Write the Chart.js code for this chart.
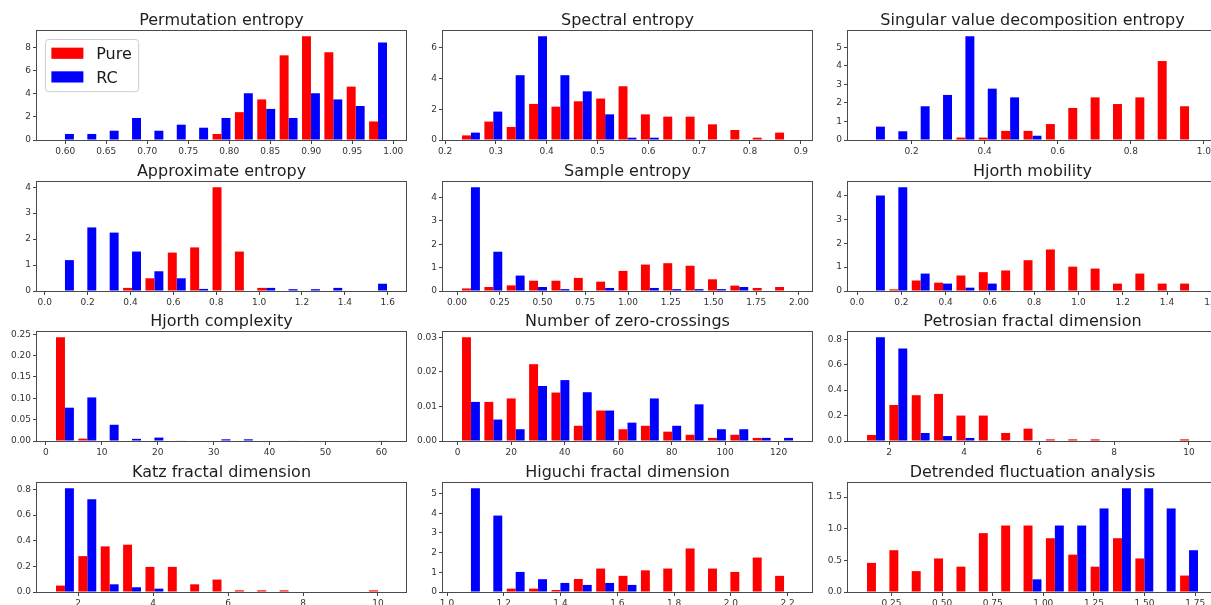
<!DOCTYPE html>
<html>
<head>
<meta charset="utf-8">
<script src="https://cdn.jsdelivr.net/npm/chart.js@4.4.1/dist/chart.umd.min.js"></script>
<style>
  html, body { margin: 0; padding: 0; background: #fff; }
  body { position: relative; width: 1211px; height: 605px; overflow: hidden; }
  canvas { position: absolute; }
</style>
</head>
<body>
<script>
// ═══════════════════════════════
// HISTOGRAMAS DE CARACTERÍSTICAS — PURE vs RC
// ═══════════════════════════════
// 12 paneles (4 filas × 3 columnas). Cada panel es una densidad en 15 bins; las barras
// rojas (Pure) y azules (RC) van lado a lado dentro de cada bin, como hist() de matplotlib.

const TITULOS = [
  'Permutation entropy', 'Spectral entropy', 'Singular value decomposition entropy',
  'Approximate entropy', 'Sample entropy', 'Hjorth mobility',
  'Hjorth complexity', 'Number of zero-crossings', 'Petrosian fractal dimension',
  'Katz fractal dimension', 'Higuchi fractal dimension', 'Detrended fluctuation analysis',
];

// [primer borde, último borde] de los bins de cada panel
const RANGO_BINS = [
  [0.586, 0.995], [0.229, 0.889], [0.072, 0.990],
  [0.042, 1.607], [0.016, 1.978], [0.035, 1.550],
  [1.4, 61.4],    [0.8, 126.2],   [1.35, 10.3],
  [1.35, 10.3],   [1.045, 2.227], [0.118, 1.775],
];
const N_BINS = 15;

const PURE = [
  [0, 0, 0, 0, 0, 0, 0, 0.52, 2.4, 3.5, 7.3, 8.95, 7.57, 4.6, 1.6],
  [0.3, 1.2, 0.85, 2.35, 2.17, 2.52, 2.7, 3.5, 1.67, 1.52, 1.52, 1.02, 0.65, 0.15, 0.48],
  [0, 0, 0, 0, 0.13, 0.13, 0.49, 0.49, 0.86, 1.73, 2.3, 1.94, 2.3, 4.26, 1.82],
  [0, 0, 0, 0.12, 0.49, 1.48, 1.68, 4.0, 1.52, 0.12, 0, 0, 0, 0, 0],
  [0.11, 0.17, 0.24, 0.44, 0.44, 0.56, 0.4, 0.86, 1.13, 1.19, 1.08, 0.5, 0.23, 0.13, 0.17],
  [0, 0.07, 0.44, 0.35, 0.65, 0.79, 0.86, 1.29, 1.74, 1.02, 0.94, 0.31, 0.73, 0.31, 0.31],
  [0.243, 0.0055, 0, 0, 0, 0, 0, 0, 0, 0, 0, 0, 0, 0, 0],
  [0.030, 0.0113, 0.0123, 0.0222, 0.0140, 0.0044, 0.0088, 0.0034, 0.0044, 0.0027, 0.0018, 0.0009, 0.0018, 0.0009, 0],
  [0.047, 0.283, 0.36, 0.37, 0.2, 0.2, 0.063, 0.097, 0.013, 0.013, 0.013, 0, 0, 0, 0.013],
  [0.05, 0.28, 0.356, 0.369, 0.196, 0.196, 0.06, 0.097, 0.013, 0.013, 0.013, 0, 0, 0, 0.013],
  [0, 0, 0.17, 0.17, 0.1, 0.66, 1.19, 0.82, 1.1, 1.19, 2.21, 1.19, 1.02, 1.75, 0.82],
  [0.46, 0.66, 0.33, 0.53, 0.40, 0.93, 1.05, 1.05, 0.85, 0.59, 0.40, 0.85, 0.53, 0, 0.26],
];

const RC = [
  [0.52, 0.52, 0.8, 1.9, 0.8, 1.32, 1.06, 1.9, 4.03, 2.68, 1.9, 4.03, 3.5, 2.93, 8.4],
  [0.48, 1.85, 4.22, 6.76, 4.22, 3.17, 1.67, 0.15, 0.15, 0, 0, 0, 0, 0, 0],
  [0.72, 0.47, 1.82, 2.43, 5.6, 2.77, 2.3, 0.23, 0, 0, 0, 0, 0, 0, 0],
  [1.19, 2.45, 2.25, 1.52, 0.76, 0.49, 0.08, 0, 0, 0.12, 0.07, 0.07, 0.12, 0, 0.28],
  [4.44, 1.68, 0.66, 0.17, 0.08, 0, 0.13, 0, 0.13, 0.08, 0.08, 0.08, 0.17, 0, 0],
  [4.0, 4.35, 0.73, 0.31, 0.14, 0.31, 0, 0, 0, 0, 0, 0, 0, 0, 0],
  [0.078, 0.102, 0.038, 0.005, 0.008, 0.001, 0, 0.004, 0.004, 0, 0.001, 0, 0, 0, 0.001],
  [0.0113, 0.0062, 0.0034, 0.0159, 0.0176, 0.0141, 0.0088, 0.0053, 0.0123, 0.0044, 0.0106, 0.0034, 0.0034, 0.0009, 0.0009],
  [0.816, 0.727, 0.063, 0.039, 0.024, 0, 0, 0, 0, 0, 0, 0, 0, 0, 0],
  [0.81, 0.724, 0.06, 0.037, 0.026, 0, 0, 0, 0, 0, 0, 0, 0, 0, 0],
  [5.27, 3.88, 1.02, 0.65, 0.46, 0.36, 0.46, 0.36, 0, 0, 0, 0, 0, 0, 0],
  [0, 0, 0, 0, 0, 0, 0, 0.2, 1.05, 1.05, 1.32, 1.64, 1.64, 1.32, 0.66],
];

const TICKS_X = [
  ['0.60', '0.65', '0.70', '0.75', '0.80', '0.85', '0.90', '0.95', '1.00'],
  ['0.2', '0.3', '0.4', '0.5', '0.6', '0.7', '0.8', '0.9'],
  ['0.2', '0.4', '0.6', '0.8', '1.0'],
  ['0.0', '0.2', '0.4', '0.6', '0.8', '1.0', '1.2', '1.4', '1.6'],
  ['0.00', '0.25', '0.50', '0.75', '1.00', '1.25', '1.50', '1.75', '2.00'],
  ['0.0', '0.2', '0.4', '0.6', '0.8', '1.0', '1.2', '1.4', '1.6'],
  ['0', '10', '20', '30', '40', '50', '60'],
  ['0', '20', '40', '60', '80', '100', '120'],
  ['2', '4', '6', '8', '10'],
  ['2', '4', '6', '8', '10'],
  ['1.0', '1.2', '1.4', '1.6', '1.8', '2.0', '2.2'],
  ['0.25', '0.50', '0.75', '1.00', '1.25', '1.50', '1.75'],
];

const TICKS_Y = [
  ['0', '2', '4', '6', '8'],
  ['0', '2', '4', '6'],
  ['0', '1', '2', '3', '4', '5'],
  ['0', '1', '2', '3', '4'],
  ['0', '1', '2', '3', '4'],
  ['0', '1', '2', '3', '4'],
  ['0.00', '0.05', '0.10', '0.15', '0.20', '0.25'],
  ['0.00', '0.01', '0.02', '0.03'],
  ['0.0', '0.2', '0.4', '0.6', '0.8'],
  ['0.0', '0.2', '0.4', '0.6', '0.8'],
  ['0', '1', '2', '3', '4', '5'],
  ['0.0', '0.5', '1.0', '1.5'],
];

const COLOR_PURE = '#ff0000';
const COLOR_RC = '#0000ff';

// ── Geometría de la rejilla (área de ejes de cada panel, en px) ──
const COLUMNAS_X = [37, 443, 848];
const FILAS_Y = [31, 182, 332, 483];
const ANCHO_EJES = 369, ALTO_EJES = 109;
const EJE_Y_ANCHO = 34, TITULO_ALTO = 22, EJE_X_ALTO = 20, MARGEN_DER = 16;
const FUENTE = 'DejaVu Sans';

Chart.defaults.font.family = FUENTE;

// Marco completo alrededor de los ejes (los 4 lados, como los spines de matplotlib)
const _marcoEjes = {
  id: 'marcoEjes',
  afterDatasetsDraw(chart) {
    const { ctx, chartArea: a } = chart;
    ctx.save();
    ctx.strokeStyle = '#4a4a4a';
    ctx.lineWidth = 1;
    ctx.strokeRect(Math.round(a.left) - 0.5, Math.round(a.top) - 0.5, Math.round(a.width) + 1, Math.round(a.height) + 1);
    ctx.restore();
  },
};

// Leyenda dentro de los ejes, esquina superior izquierda (solo primer panel)
const _leyendaInterna = {
  id: 'leyendaInterna',
  afterDraw(chart, args, opts) {
    if (!opts.display) return;
    const { ctx, chartArea } = chart;
    const fs = opts.fontSize;
    const pad = 0.4 * fs, largo = 2 * fs, altoMuestra = 0.7 * fs, sep = 0.8 * fs, entre = 0.5 * fs, filaAlto = 0.98 * fs;
    const items = chart.data.datasets;
    ctx.save();
    ctx.font = `${fs}px "${FUENTE}"`;
    const anchoTexto = Math.max(...items.map(d => ctx.measureText(d.label).width));
    const w = pad * 2 + largo + sep + anchoTexto;
    const h = pad * 2 + items.length * filaAlto + (items.length - 1) * entre;
    const x0 = chartArea.left + 0.5 * fs, y0 = chartArea.top + 0.5 * fs;
    ctx.beginPath();
    ctx.roundRect(x0 + 0.5, y0 + 0.5, w, h, 3);
    ctx.fillStyle = 'rgba(255,255,255,0.8)';
    ctx.fill();
    ctx.strokeStyle = '#cccccc';
    ctx.lineWidth = 1;
    ctx.stroke();
    items.forEach((d, i) => {
      const cy = y0 + pad + i * (filaAlto + entre) + filaAlto / 2;
      ctx.fillStyle = d.backgroundColor;
      ctx.fillRect(x0 + pad, cy - altoMuestra / 2, largo, altoMuestra);
      ctx.fillStyle = '#1a1a1a';
      ctx.textBaseline = 'alphabetic';
      ctx.fillText(d.label, x0 + pad + largo + sep, cy + 0.36 * fs);
    });
    ctx.restore();
  },
};

function _estiloEje(etiquetas, extra) {
  return Object.assign({
    type: 'linear',
    offset: false,
    grid: { display: true, drawOnChartArea: false, drawTicks: true, tickLength: 4, color: '#444', offset: false },
    border: { display: false },
    ticks: {
      autoSkip: false, maxRotation: 0, padding: 2, color: '#333',
      font: { family: FUENTE, size: 9 },
      callback: (v, i) => etiquetas[i],
    },
    afterBuildTicks: (s) => { s.ticks = etiquetas.map(t => ({ value: Number(t) })); },
  }, extra);
}

function _panel(p) {
  const fila = Math.floor(p / 3), col = p % 3;
  const canvas = document.createElement('canvas');
  canvas.width = EJE_Y_ANCHO + ANCHO_EJES + MARGEN_DER;
  canvas.height = TITULO_ALTO + ALTO_EJES + EJE_X_ALTO;
  canvas.style.left = (COLUMNAS_X[col] - EJE_Y_ANCHO) + 'px';
  canvas.style.top = (FILAS_Y[fila] - TITULO_ALTO) + 'px';
  document.body.appendChild(canvas);

  const [ini, fin] = RANGO_BINS[p];
  const anchoBin = (fin - ini) / N_BINS;
  const centros = PURE[p].map((_, i) => ini + (i + 0.5) * anchoBin);
  const margen = 0.05 * (fin - ini);
  const yMax = Math.max(...PURE[p], ...RC[p]) * 1.05;

  new Chart(canvas, {
    type: 'bar',
    data: {
      datasets: [
        { label: 'Pure', data: centros.map((x, i) => ({ x, y: PURE[p][i] })), backgroundColor: COLOR_PURE },
        { label: 'RC', data: centros.map((x, i) => ({ x, y: RC[p][i] })), backgroundColor: COLOR_RC },
      ],
    },
    options: {
      responsive: false,
      animation: false,
      devicePixelRatio: 1,
      categoryPercentage: 0.8,
      barPercentage: 1.0,
      layout: { padding: { left: 0, right: MARGEN_DER, top: 0, bottom: 0 } },
      plugins: {
        legend: { display: false },
        tooltip: { enabled: false },
        title: {
          display: true, text: TITULOS[p], fullSize: false, color: '#1e1e1e',
          font: { family: FUENTE, size: 16, weight: 'normal', lineHeight: '20px' },
          padding: { top: 2, bottom: 0 },
        },
        leyendaInterna: { display: p === 0, fontSize: 16 },
      },
      scales: {
        x: _estiloEje(TICKS_X[p], { min: ini - margen, max: fin + margen, afterFit: (s) => { s.height = EJE_X_ALTO; } }),
        y: _estiloEje(TICKS_Y[p], { min: 0, max: yMax, afterFit: (s) => { s.width = EJE_Y_ANCHO; } }),
      },
    },
    plugins: [_marcoEjes, _leyendaInterna],
  });
}

TITULOS.forEach((_, p) => _panel(p));
</script>
</body>
</html>
